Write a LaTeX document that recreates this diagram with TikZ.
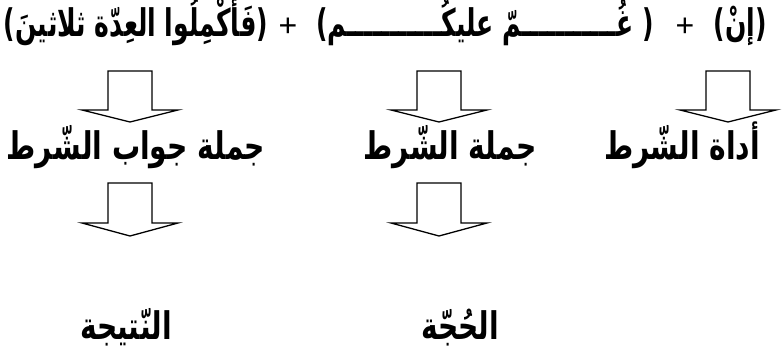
\documentclass[tikz,border=0pt]{standalone}
\usepackage{fontspec}
\setmainfont{Liberation Sans}
\newfontfamily\arabicfont[Script=Arabic,FakeStretch=0.74]{DejaVu Sans}
\newfontfamily\arabictop[Script=Arabic,FakeStretch=0.66]{DejaVu Sans}
\TeXXeTstate=1
\begin{document}
\begin{tikzpicture}[x=1pt,y=-1pt,
  toptxt/.style={font=\arabictop\bfseries\fontsize{38}{42}\selectfont, inner sep=0pt, anchor=base, text height=28pt, text depth=8pt},
  lbl/.style={font=\arabicfont\bfseries\fontsize{38}{42}\selectfont, inner sep=0pt, anchor=base, text height=30pt, text depth=5pt},
  plussign/.style={font=\fontsize{32}{36}\selectfont, inner sep=0pt, anchor=base},
  arrowline/.style={draw=black, line width=1.3pt, fill=white, line join=miter},
  pics/blockarrow/.style 2 args={code={
    \path[arrowline] (-22,0) -- (22,0) -- (22,#1) -- (48,#1) -- (0,{#1+#2}) -- (-48,#1) -- (-22,#1) -- cycle;}}
]
\useasboundingbox (0,0) rectangle (782,358);
% top line
\node[toptxt] (g1) at (740,37) {\beginR(إنْ)\endR};
\node[plussign] (p1) at (685,37) {+};
\node[toptxt] (g2) at (485,37) {\beginR( غُـــــــــــمّ عليكُـــــــــــم)\endR};
\node[plussign] (p2) at (288,37) {+};
\node[toptxt] (g3) at (136,37) {\beginR(فَأَكْمِلُوا العِدّة ثلاثينَ)\endR};
% arrows row 1
\coordinate (a1) at (130,71);
\coordinate (a2) at (439,71);
\coordinate (a3) at (728,71);
\pic at (a1) {blockarrow={39}{12}};
\pic at (a2) {blockarrow={39}{12}};
\pic at (a3) {blockarrow={39}{12}};
% labels row
\node[lbl] (l1) at (136,160) {\beginR جملة جواب الشّرط\endR};
\node[lbl] (l2) at (450,160) {\beginR جملة الشّرط\endR};
\node[lbl] (l3) at (682,160) {\beginR أداة الشّرط\endR};
% arrows row 2
\coordinate (b1) at (130,183);
\coordinate (b2) at (439,183);
\pic at (b1) {blockarrow={40}{13}};
\pic at (b2) {blockarrow={40}{13}};
% bottom labels
\node[lbl] (r1) at (126,339) {\beginR النّتيجة\endR};
\node[lbl] (r2) at (460,339) {\beginR الحُجّة\endR};
\end{tikzpicture}
\end{document}
